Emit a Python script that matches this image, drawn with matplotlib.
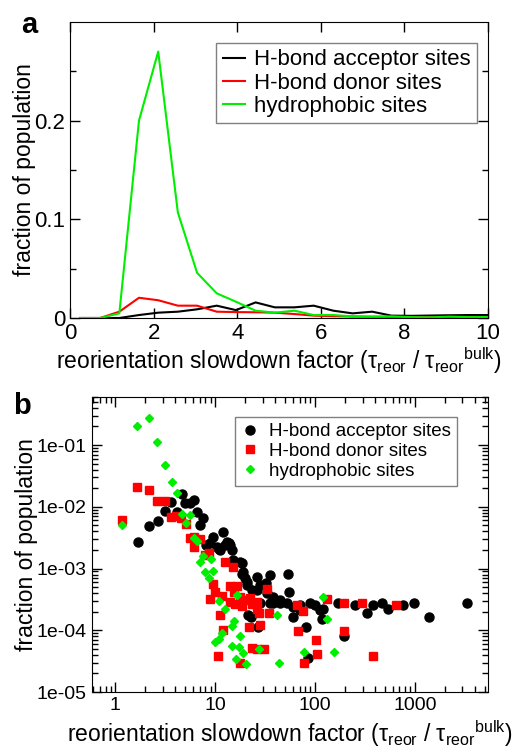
import matplotlib
matplotlib.use("Agg")
import matplotlib.pyplot as plt
from matplotlib.ticker import FuncFormatter, LogLocator, NullFormatter

plt.rcParams["font.family"] = ["Liberation Sans", "DejaVu Sans"]
plt.rcParams["mathtext.fontset"] = "custom"
plt.rcParams["mathtext.rm"] = "Liberation Sans"
plt.rcParams["mathtext.it"] = "Liberation Sans"
plt.rcParams["mathtext.default"] = "regular"

# %% panel a: distributions on a linear scale
bins_a = [0.25, 0.72, 1.18, 1.65, 2.11, 2.58, 3.04, 3.51, 3.97, 4.44, 4.90,
          5.37, 5.83, 6.30, 6.76, 7.23, 7.69, 8.16, 8.62, 9.09, 9.55, 10.02]
acceptor_a = [0, 0, 0.0, 0.003, 0.0054, 0.0064, 0.0088, 0.0125, 0.008, 0.0158, 0.0108,
              0.0108, 0.0125, 0.0074, 0.0047, 0.0064, 0.0024, 0.0022, 0.0025, 0.0028, 0.003, 0.003]
donor_a = [0, 0, 0.0064, 0.0205, 0.018, 0.0125, 0.0125, 0.0064, 0.006, 0.0058, 0.0054,
           0.004, 0.0024, 0.0018, 0.0015, 0.0013, 0.0012, 0.001, 0.001, 0.0009, 0.0008, 0.0008]
hydro_a = [0, 0, 0.0047, 0.200, 0.270, 0.107, 0.0458, 0.025, 0.0165, 0.0074, 0.0054,
           0.0074, 0.003, 0.003, 0.0016, 0.0013, 0.0016, 0.0009, 0.0007, 0.0014, 0.0009, 0.001]

# %% panel b: same populations on log-log axes
acc_x = [1.67, 2.15, 2.65, 3.14, 3.63, 4.15, 4.64, 5.0, 5.62, 6.07, 6.56, 7.08, 7.53, 8.13,
         8.9, 9.6, 10.4, 10.8, 11.2, 12.1, 12.6, 13.1, 13.6, 14.1, 14.7, 15.2, 15.8, 17.8,
         18.5, 18.5, 19.2, 20.0, 20.8, 20.7, 23.3, 26.1, 26.1, 28.2, 28.2, 32.4, 32.9, 35.6,
         35.5, 38.3, 38.3, 44.7, 44.7, 52.0, 53.7, 55.0, 60.7, 60.7, 70.8, 70.8, 89.1, 100,
         112, 117, 121, 171, 251, 329, 383, 464, 541, 764, 984, 1380, 3335, 21.5, 23.0, 27.0,
         81.3, 84.5, 195]
acc_y = [0.0027, 0.0048, 0.0059, 0.0086, 0.0120, 0.0083, 0.0161, 0.0113, 0.0113, 0.0129,
         0.0083, 0.0050, 0.0066, 0.0024, 0.00255, 0.00327, 0.00224, 0.00204, 0.0020, 0.00394,
         0.0024, 0.0027, 0.00255, 0.0024, 0.0020, 0.00137, 0.00129, 0.00129, 0.00124, 0.00083,
         0.00089, 0.00069, 0.00061, 0.00054, 0.00045, 0.00073, 0.00045, 0.00054, 0.000272,
         0.00059, 0.00040, 0.00078, 0.000272, 0.00035, 0.000272, 0.00031, 0.000272, 0.000272,
         0.00083, 0.00042, 0.00024, 0.000166, 0.000212, 0.00026, 0.000272, 0.000255, 0.000212,
         0.000155, 0.000225, 0.000272, 0.000255, 0.000191, 0.000255, 0.000272, 0.000225,
         0.000255, 0.000272, 0.000165, 0.000272, 0.000176, 0.000166, 0.000111, 0.000114,
         3.5e-5, 8.1e-5]

don_x = [1.17, 1.66, 2.15, 2.6, 3.16, 3.63, 4.07, 4.54, 5.13, 5.54, 6.07, 6.07, 7.1, 7.94,
         8.58, 12.6, 15.0, 9.6, 10.0, 8.9, 11.8, 14.1, 16.5, 14.1, 15.3, 15.8, 17.8, 18.5, 20.0,
         22.4, 23.3, 26.1, 26.1, 27.7, 34.7, 33.3, 11.2, 12.1, 21.9, 28.2, 10.6, 17.8, 23.3,
         26.1, 31.1, 66.5, 76.4, 68.1, 102, 105, 77.6, 131, 196, 196, 293, 378, 646]
don_y = [0.0061, 0.0206, 0.0187, 0.0124, 0.0124, 0.0068, 0.0071, 0.0066, 0.0052, 0.0031,
         0.0032, 0.00225, 0.0030, 0.00166, 0.00176, 0.00129, 0.00107, 0.00057, 0.00042,
         0.00032, 0.00036, 0.00052, 0.00052, 0.00029, 0.00042, 0.00027, 0.00035, 0.00025,
         0.00031, 0.00033, 0.00027, 0.00029, 0.00022, 0.00019, 0.00019, 0.00047, 0.00018,
         0.0001, 0.000115, 0.00012, 3.8e-5, 2.9e-5, 5.2e-5, 5.0e-5, 5.0e-5, 0.000255,
         0.000207, 9.8e-5, 6.9e-5, 4.1e-5, 2.9e-5, 0.00032, 0.00028, 9.8e-5, 0.00028, 3.9e-5,
         0.00026]

hyd_x = [1.17, 1.65, 2.15, 2.63, 3.14, 3.66, 4.10, 4.60, 5.62, 5.09, 6.07, 6.56, 7.53, 7.08,
         9.12, 7.94, 9.62, 8.58, 10.8, 12.6, 16.7, 15.6, 14.9, 11.8, 10.96, 10.0, 17.8, 14.7,
         17.4, 19.2, 27.7, 16.1, 20.4, 41.4, 44.0, 77.6, 121, 131, 155]
hyd_y = [0.0050, 0.206, 0.277, 0.110, 0.0469, 0.0251, 0.0167, 0.0076, 0.0073, 0.0054, 0.0031,
         0.0028, 0.0016, 0.00129, 0.00141, 0.000885, 0.00091, 0.00071, 0.000297, 0.000217,
         0.00037, 0.000140, 0.000118, 8.9e-5, 7.3e-5, 6.5e-5, 8.1e-5, 5.6e-5, 5.3e-5, 4.3e-5,
         4.9e-5, 3.4e-5, 2.8e-5, 0.000174, 2.9e-5, 4.5e-5, 0.00034, 0.000155, 4.5e-5]

labels = ["H-bond acceptor sites", "H-bond donor sites", "hydrophobic sites"]
colors = ["black", "#ff0000", "#00ee00"]
xlabel = r"reorientation slowdown factor ($\tau_{reor}$ / $\tau_{reor}{}^{bulk}$)"

fig = plt.figure(figsize=(5.28, 7.5), dpi=100)
ax1 = fig.add_axes([0.1326, 0.576, 0.7916, 0.3947])
ax2 = fig.add_axes([0.1737, 0.0773, 0.7505, 0.3934])

for ys, lab, c in zip([acceptor_a, donor_a, hydro_a], labels, colors):
    ax1.plot(bins_a, ys, color=c, lw=1.5, label=lab)
ax1.set_xlim(0, 10)
ax1.set_ylim(0, 0.3)
ax1.set_xticks([0, 2, 4, 6, 8, 10])
ax1.set_yticks([0, 0.1, 0.2], ["0", "0.1", "0.2"])
ax1.set_yticks([0.05, 0.15, 0.25], minor=True)
ax1.tick_params(which="both", direction="in", top=True, right=True, labelsize=16, width=1)
ax1.tick_params(which="major", length=7)
ax1.tick_params(which="minor", length=4)
ax1.set_xlabel(xlabel, fontsize=16.5, labelpad=1)
ax1.set_ylabel("fraction of population", fontsize=16.5, labelpad=-1)
leg = ax1.legend(loc="upper right", bbox_to_anchor=(0.974, 0.93), borderaxespad=0,
                 fontsize=16, handlelength=1.0, handletextpad=0.4, labelspacing=0.1,
                 borderpad=0.3, fancybox=False, framealpha=1)
leg.get_frame().set_edgecolor("#808080")

ax2.plot(acc_x, acc_y, "o", color="black", ms=6.5, label=labels[0], ls="none")
ax2.plot(don_x, don_y, "s", color="#ff0000", ms=5.5, label=labels[1], ls="none")
ax2.plot(hyd_x, hyd_y, "D", color="#00ee00", ms=4.2, label=labels[2], ls="none")
ax2.set_xscale("log")
ax2.set_yscale("log")
ax2.set_xlim(0.58, 5400)
ax2.set_ylim(1e-5, 0.6)
ax2.xaxis.set_major_formatter(FuncFormatter(lambda v, p: f"{v:g}"))
ax2.yaxis.set_major_locator(LogLocator(base=10, numticks=10))
ax2.yaxis.set_major_formatter(FuncFormatter(lambda v, p: f"{v:.0e}"))
for axis in [ax2.xaxis, ax2.yaxis]:
    axis.set_minor_locator(LogLocator(base=10, subs=range(2, 10), numticks=20))
    axis.set_minor_formatter(NullFormatter())
ax2.tick_params(which="both", direction="in", top=True, right=True, labelsize=14, width=1)
ax2.tick_params(which="major", length=7)
ax2.tick_params(which="minor", length=4)
ax2.set_xlabel(xlabel, fontsize=16.5, labelpad=3)
ax2.set_ylabel("fraction of population", fontsize=16.5, labelpad=-1)
leg2 = ax2.legend(loc="upper right", bbox_to_anchor=(0.921, 0.931), borderaxespad=0,
                  fontsize=13.5, handlelength=1.0, handletextpad=0.5, labelspacing=0.15,
                  borderpad=0.3, fancybox=False, framealpha=1)
leg2.get_frame().set_edgecolor("#808080")

fig.text(0.04, 0.967, "a", fontsize=21, fontweight="bold", va="center")
fig.text(0.025, 0.458, "b", fontsize=21, fontweight="bold", va="center")

fig.savefig("out.png", dpi=100)
